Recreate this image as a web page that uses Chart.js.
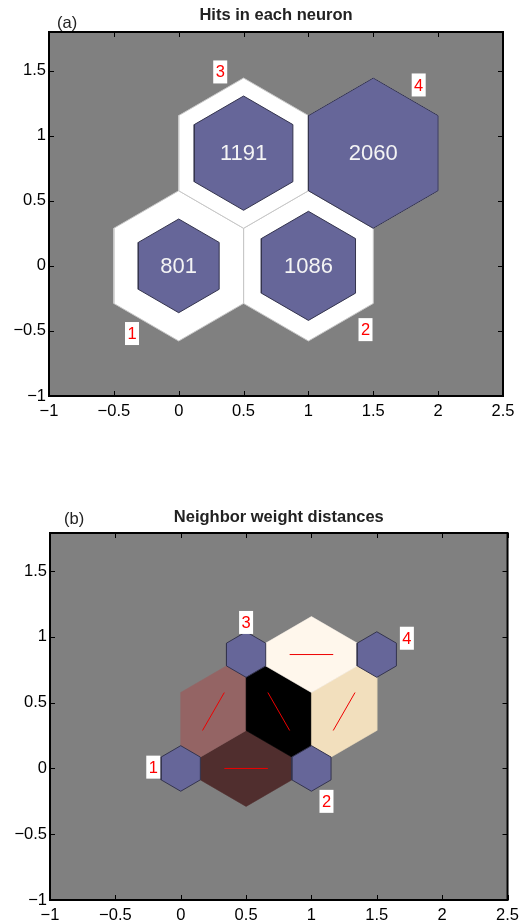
<!DOCTYPE html>
<html><head><meta charset="utf-8">
<script src="https://cdn.jsdelivr.net/npm/chart.js@4.4.1/dist/chart.umd.min.js"></script>
<style>
html,body{margin:0;padding:0;background:#fff;width:525px;height:922px;overflow:hidden}
#wa{position:absolute;left:0;top:0;width:525px;height:460px}
#wb{position:absolute;left:0;top:460px;width:525px;height:462px}
</style></head><body>
<div id="wa"><canvas id="ca"></canvas></div>
<div id="wb"><canvas id="cb"></canvas></div>
<script>
// ---- data ----
const neuronX = [0, 1, 0.5, 1.5];
const neuronY = [0, 0, 0.866, 0.866];
const neuronIds = ['1', '2', '3', '4'];
const hits = [801, 1086, 1191, 2060];
const idLabelXA = [-0.36, 1.44, 0.32, 1.85];
const idLabelYA = [-0.52, -0.49, 1.49, 1.39];
const neighborI = [0, 0, 1, 1, 2];
const neighborJ = [1, 2, 2, 3, 3];
const neighborColors = ['#502e2e', '#946464', '#000000', '#f2dfbd', '#fff7ec'];
const idLabelXB = [-0.21, 1.115, 0.5, 1.73];
const idLabelYB = [0.01, -0.25, 1.11, 0.99];
const xTicks = [-1, -0.5, 0, 0.5, 1, 1.5, 2, 2.5];
const xTickLabels = ['\u22121', '\u22120.5', '0', '0.5', '1', '1.5', '2', '2.5'];
const yTicks = [-1, -0.5, 0, 0.5, 1, 1.5];
const yTickLabels = ['\u22121', '\u22120.5', '0', '0.5', '1', '1.5'];

// ---- geometry helpers ----
const FONT = '"Liberation Sans", Arial, Helvetica, sans-serif';
const R = 1 / Math.sqrt(3);
const hexAngles = [90, 150, 210, 270, 330, 30, 90];
function hex(cx, cy, s) {
  return hexAngles.map(a => ({x: cx + s * R * Math.cos(a * Math.PI / 180), y: cy + s * R * Math.sin(a * Math.PI / 180)}));
}
let k = 0;
function polyDS(pts, fillColor, lineColor, lw) {
  return {data: pts, showLine: true, fill: 'shape', backgroundColor: fillColor, borderColor: lineColor,
    borderWidth: lw, pointRadius: 0, pointHoverRadius: 0, tension: 0, borderJoinStyle: 'miter', order: -(k++)};
}
function lineDS(pts, color, lw) {
  return {data: pts, showLine: true, fill: false, borderColor: color, borderWidth: lw,
    pointRadius: 0, pointHoverRadius: 0, tension: 0, order: -(k++)};
}

// ---- top chart datasets ----
const dsA = [];
const maxHits = Math.max(...hits);
k = 0;
for (let i = 0; i < 4; i++) dsA.push(polyDS(hex(neuronX[i], neuronY[i], 1), '#ffffff', '#c8c8c8', 1));
for (let i = 0; i < 4; i++) dsA.push(polyDS(hex(neuronX[i], neuronY[i], Math.sqrt(hits[i] / maxHits)), '#666699', '#34344e', 1));

// ---- bottom chart datasets ----
const dsB = [];
k = 0;
const z = R / 2;
for (let e = 0; e < neighborI.length; e++) {
  const i = neighborI[e], j = neighborJ[e];
  const dx = neuronX[j] - neuronX[i], dy = neuronY[j] - neuronY[i];
  const L = Math.hypot(dx, dy);
  const px = -dy / L * z, py = dx / L * z;
  const mx = (neuronX[i] + neuronX[j]) / 2, my = (neuronY[i] + neuronY[j]) / 2;
  const pts = [{x: neuronX[i], y: neuronY[i]}, {x: mx + px, y: my + py}, {x: neuronX[j], y: neuronY[j]}, {x: mx - px, y: my - py}, {x: neuronX[i], y: neuronY[i]}];
  dsB.push(polyDS(pts, neighborColors[e], neighborColors[e], 0.6));
}
for (let e = 0; e < neighborI.length; e++) {
  const i = neighborI[e], j = neighborJ[e];
  dsB.push(lineDS([
    {x: (2 * neuronX[i] + neuronX[j]) / 3, y: (2 * neuronY[i] + neuronY[j]) / 3},
    {x: (neuronX[i] + 2 * neuronX[j]) / 3, y: (neuronY[i] + 2 * neuronY[j]) / 3}], '#ee0000', 1));
}
for (let i = 0; i < 4; i++) dsB.push(polyDS(hex(neuronX[i], neuronY[i], 0.3), '#666699', '#34344e', 1));

// ---- plugin: background, frame, ticks, texts ----
const frame = {
  id: 'frame',
  beforeDatasetsDraw(chart) {
    const a = chart.chartArea, c = chart.ctx;
    c.save(); c.fillStyle = '#808080';
    c.fillRect(a.left, a.top, a.right - a.left, a.bottom - a.top);
    c.restore();
  },
  afterDatasetsDraw(chart, args, o) {
    const a = chart.chartArea, c = chart.ctx;
    const xs = chart.scales.x, ys = chart.scales.y;
    c.save();
    // hit numbers
    if (o.showHits) {
      c.fillStyle = '#f4f4f4'; c.font = '22px ' + FONT; c.textAlign = 'center'; c.textBaseline = 'middle';
      for (let i = 0; i < 4; i++) c.fillText(String(hits[i]), xs.getPixelForValue(neuronX[i]), ys.getPixelForValue(neuronY[i]) + 1);
    }
    // neuron id labels
    c.font = '16.5px ' + FONT; c.textAlign = 'center'; c.textBaseline = 'middle';
    for (let i = 0; i < 4; i++) {
      const px = xs.getPixelForValue(o.lx[i]), py = ys.getPixelForValue(o.ly[i]);
      c.fillStyle = '#ffffff'; c.fillRect(px - 7, py - 11.5, 14, 23);
      c.fillStyle = '#ff0000'; c.fillText(neuronIds[i], px, py + 1);
    }
    // ticks inward
    c.strokeStyle = '#000'; c.lineWidth = 1;
    c.beginPath();
    xTicks.forEach(v => {
      const p = Math.round(xs.getPixelForValue(v)) + 0.5;
      c.moveTo(p, a.bottom); c.lineTo(p, a.bottom - 5);
      c.moveTo(p, a.top); c.lineTo(p, a.top + 5);
    });
    yTicks.forEach(v => {
      const p = Math.round(ys.getPixelForValue(v)) + 0.5;
      c.moveTo(a.left, p); c.lineTo(a.left + 5, p);
      c.moveTo(a.right, p); c.lineTo(a.right - 5, p);
    });
    c.stroke();
    c.lineWidth = 2;
    c.strokeRect(a.left, a.top, a.right - a.left, a.bottom - a.top);
    // title & tag
    c.fillStyle = '#222'; c.textBaseline = 'alphabetic';
    c.font = 'bold 16.5px ' + FONT; c.textAlign = 'center';
    c.fillText(o.title, (a.left + a.right) / 2, a.top + o.titleDy);
    c.font = '16.5px ' + FONT; c.textAlign = 'left';
    c.fillText(o.tag, o.tagX, a.top + o.tagDy);
    c.restore();
  }
};

function scales(yMax, yWidth) {
  return {
    x: {type: 'linear', min: -1, max: 2.5, grid: {display: false, drawTicks: false}, border: {display: false},
      afterBuildTicks: s => { s.ticks = xTicks.map(v => ({value: v})); },
      afterFit: s => { s.height = 20; },
      ticks: {padding: 6, color: '#000', font: {family: FONT, size: 16.5}, maxRotation: 0, autoSkip: false,
        callback: (v, i) => xTickLabels[i]}},
    y: {type: 'linear', min: -1, max: yMax, grid: {display: false, drawTicks: false}, border: {display: false},
      afterBuildTicks: s => { s.ticks = yTicks.map(v => ({value: v})); },
      afterFit: s => { s.width = yWidth; },
      ticks: {padding: 3, color: '#000', font: {family: FONT, size: 16.5}, autoSkip: false,
        callback: (v, i) => yTickLabels[i]}}
  };
}

new Chart(document.getElementById('ca'), {
  type: 'scatter',
  data: {datasets: dsA},
  options: {
    responsive: true, maintainAspectRatio: false, animation: false, events: [],
    layout: {padding: {left: 0, right: 22, top: 32, bottom: 44}},
    scales: scales(1.797, 49),
    plugins: {legend: {display: false}, tooltip: {enabled: false},
      frame: {showHits: true, lx: idLabelXA, ly: idLabelYA, title: 'Hits in each neuron', titleDy: -12, tag: '(a)', tagX: 57, tagDy: -4}}
  },
  plugins: [frame]
});

new Chart(document.getElementById('cb'), {
  type: 'scatter',
  data: {datasets: dsB},
  options: {
    responsive: true, maintainAspectRatio: false, animation: false, events: [],
    layout: {padding: {left: 0, right: 16, top: 73, bottom: 2}},
    scales: scales(1.79, 50),
    plugins: {legend: {display: false}, tooltip: {enabled: false},
      frame: {showHits: false, lx: idLabelXB, ly: idLabelYB, title: 'Neighbor weight distances', titleDy: -11, tag: '(b)', tagX: 64, tagDy: -9}}
  },
  plugins: [frame]
});
</script>
</body></html>
